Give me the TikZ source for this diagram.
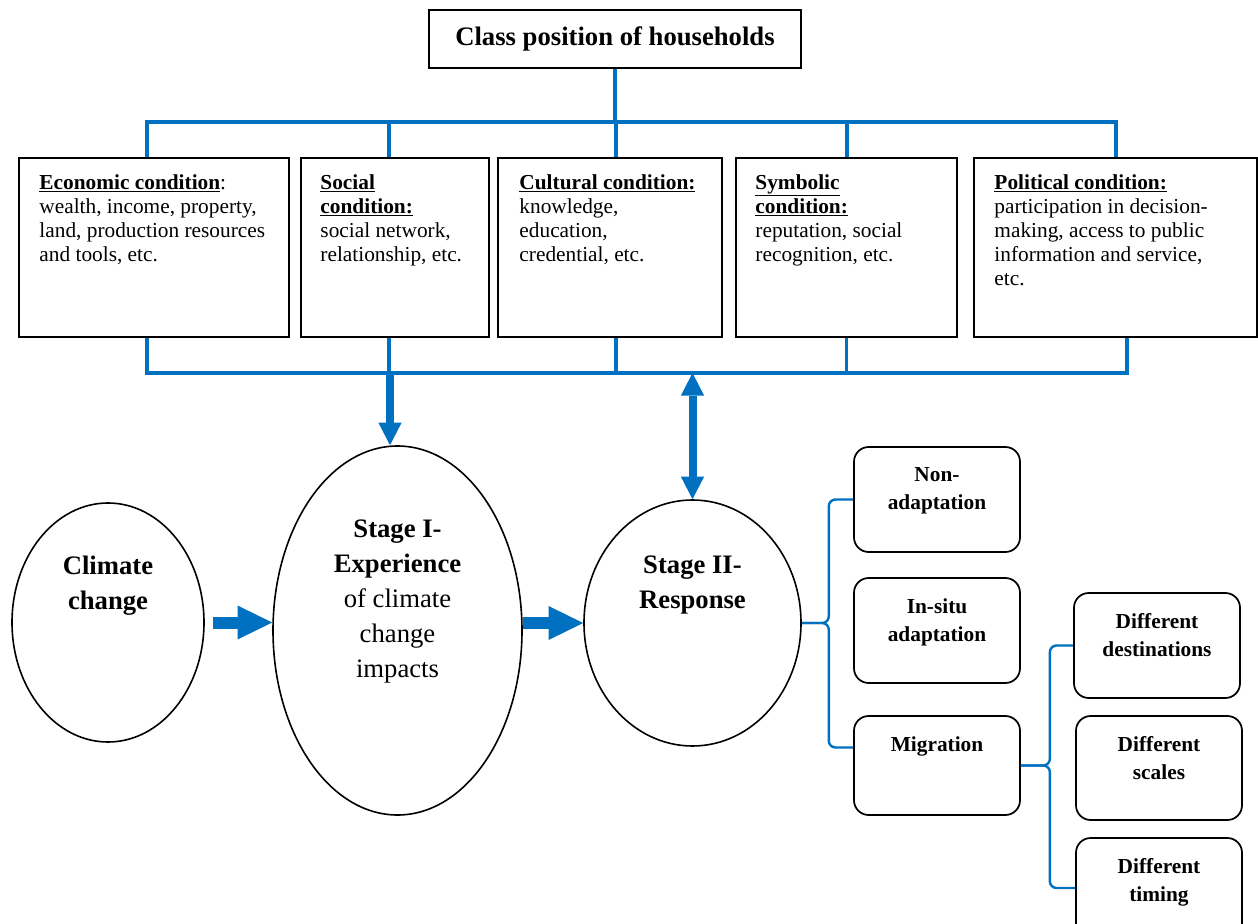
\documentclass[tikz,border=0pt]{standalone}
\usepackage{fontspec}
\setmainfont{Liberation Serif}
\usetikzlibrary{arrows.meta,calc,shapes.geometric}
\definecolor{linkblue}{RGB}{0,112,192}
\newdimen\pxu
\pxu=0.75pt

\begin{document}
\begin{tikzpicture}[x=0.75pt, y=-0.75pt,
  conn/.style={draw=linkblue, line width=2.5pt},
  fatarrow/.style={draw=linkblue, line width=6pt,
    -{Triangle[width=17.5pt,length=17pt,line width=0pt]}},
  twoarrow/.style={draw=linkblue, line width=6pt,
    {Triangle[width=17.5pt,length=17pt,line width=0pt]}-{Triangle[width=17.5pt,length=17pt,line width=0pt]}},
  blockarrow/.style={draw=linkblue, line width=9pt,
    -{Triangle[width=25.5pt,length=26pt,line width=0pt]}},
  cbox/.style={draw=black, line width=1.2pt, rectangle, inner sep=0pt,
    minimum height=179\pxu},
  ctext/.style={anchor=north west, inner sep=0pt, align=left,
    font=\fontsize{16}{18}\selectfont},
  oval/.style={draw=black, line width=1.2pt, ellipse, inner sep=0pt},
  otext/.style={anchor=north, inner sep=0pt, align=center,
    font=\fontsize{20}{26.25}\selectfont},
  rbox/.style={draw=black, line width=1.3pt, rectangle, rounded corners=11pt,
    inner sep=0pt, minimum width=166\pxu},
  rtext/.style={anchor=north, inner sep=0pt, align=center,
    font=\fontsize{16}{21}\selectfont\bfseries},
  brace/.style={draw=linkblue, line width=1.8pt, rounded corners=5pt}
]
\useasboundingbox (0,0) rectangle (1258,924);
\fill[white] (0,0) rectangle (1258,924);
\clip (0,0) rectangle (1258,924);

% title
\node[draw=black, line width=1.2pt, inner sep=0pt, minimum width=372\pxu,
  minimum height=58\pxu, font=\fontsize{20}{24}\selectfont\bfseries]
  (title) at (615,39) {Class position of households};

% the five conditions
\node[cbox, minimum width=270\pxu] (eco) at (154,247.5) {};
\node[cbox, minimum width=188\pxu] (soc) at (395,247.5) {};
\node[cbox, minimum width=224\pxu] (cul) at (610,247.5) {};
\node[cbox, minimum width=221\pxu] (sym) at (846.5,247.5) {};
\node[cbox, minimum width=283\pxu] (pol) at (1115.5,247.5) {};

\node[ctext] (ecot) at ($(eco.north west)+(21,17)$)
  {\underline{\textbf{Economic condition}}:\\wealth, income, property,\\land, production resources\\and tools, etc.};
\node[ctext] (soct) at ($(soc.north west)+(20,17)$)
  {\underline{\textbf{Social}}\\\underline{\textbf{condition:}}\\social network,\\relationship, etc.};
\node[ctext] (cult) at ($(cul.north west)+(22,17)$)
  {\underline{\textbf{Cultural condition:}}\\knowledge,\\education,\\credential, etc.};
\node[ctext] (symt) at ($(sym.north west)+(20,17)$)
  {\underline{\textbf{Symbolic}}\\\underline{\textbf{condition:}}\\reputation, social\\recognition, etc.};
\node[ctext] (polt) at ($(pol.north west)+(21,17)$)
  {\underline{\textbf{Political condition:}}\\participation in decision-\\making, access to public\\information and service,\\etc.};

% bus bars above and below the conditions
\coordinate (topbar) at (615,122);
\coordinate (lowbar) at (615,373);

\coordinate (ecoT) at ($(eco.north)+(-7,0)$);
\coordinate (socT) at ($(soc.north)+(-6,0)$);
\coordinate (culT) at ($(cul.north)+(6,0)$);
\coordinate (symT) at ($(sym.north)+(0.5,0)$);
\coordinate (polT) at ($(pol.north)+(0.5,0)$);

\coordinate (ecoB) at ($(eco.south)+(-7,0)$);
\coordinate (socB) at ($(soc.south)+(-6,0)$);
\coordinate (culB) at ($(cul.south)+(6,0)$);
\coordinate (symB) at ($(sym.south)+(0,0)$);
\coordinate (polB) at ($(pol.south)+(11.5,0)$);

\draw[conn] (title.south) -- (title.south |- topbar);
\draw[conn] (ecoT) -- (ecoT |- topbar) -- (polT |- topbar) -- (polT);
\draw[conn] (socT) -- (socT |- topbar);
\draw[conn] (culT) -- (culT |- topbar);
\draw[conn] (symT) -- (symT |- topbar);

\draw[conn] (ecoB) -- (ecoB |- lowbar) -- (polB |- lowbar) -- (polB);
\draw[conn] (socB) -- (socB |- lowbar);
\draw[conn] (culB) -- (culB |- lowbar);
\draw[conn] (symB) -- (symB |- lowbar);

% stages
\node[oval, minimum width=192\pxu, minimum height=239\pxu] (climate) at (108,622.5) {};
\node[oval, minimum width=249\pxu, minimum height=369\pxu] (stage1) at (397.5,630.5) {};
\node[oval, minimum width=217\pxu, minimum height=246\pxu] (stage2) at (692.5,623) {};

\node[otext] (climatet) at ($(climate.north)+(0,54)$)
  {\textbf{Climate}\\\textbf{change}};
\node[otext] (stage1t) at ($(stage1.north)+(0,74)$)
  {\textbf{Stage I-}\\\textbf{Experience}\\of climate\\change\\impacts};
\node[otext] (stage2t) at ($(stage2.north)+(0,56)$)
  {\textbf{Stage II-}\\\textbf{Response}};

\coordinate (socA) at ($(soc.south)+(-5,0)$);
\draw[fatarrow] (socA |- lowbar) -- (socA |- stage1.north);
\draw[twoarrow] (stage2.north |- lowbar) -- (stage2.north);

\draw[blockarrow] ($(climate.east)+(8,0)$) -- (climate.east -| stage1.west);
\draw[blockarrow] (stage2.west -| stage1.east) -- (stage2.west);

% responses
\node[rbox, minimum height=105\pxu] (nonad) at (937,499.5) {};
\node[rbox, minimum height=105\pxu] (insitu) at (937,630.5) {};
\node[rbox, minimum height=99\pxu] (migr) at (937,765.5) {};
\node[rbox, minimum height=105\pxu] (dest) at (1157,645.5) {};
\node[rbox, minimum height=104\pxu] (scales) at (1159,768) {};
\node[rbox, minimum height=100\pxu] (timing) at (1159,888) {};

\node[rtext] (nonadt) at ($(nonad.north)+(0,21)$) {Non-\\adaptation};
\node[rtext] (insitut) at ($(insitu.north)+(0,21)$) {In-situ\\adaptation};
\node[rtext] (migrt) at ($(migr.north)+(0,21)$) {Migration};
\node[rtext] (destt) at ($(dest.north)+(0,21)$) {Different\\destinations};
\node[rtext] (scalest) at ($(scales.north)+(0,21)$) {Different\\scales};
\node[rtext] (timingt) at ($(timing.north)+(0,21)$) {Different\\timing};

% braces
\coordinate (cuspA) at ($(stage2.east)+(27,0)$);
\coordinate (cuspB) at ($(migr.east)+(29,0)$);
\draw[brace] (nonad.west) -| (cuspA) -- (stage2.east);
\draw[brace] ($(migr.west)+(0,-18)$) -| (cuspA) -- (stage2.east);
\draw[brace] (dest.west) -| (cuspB) -- (migr.east);
\draw[brace] (timing.west) -| (cuspB) -- (migr.east);
\end{tikzpicture}
\end{document}
